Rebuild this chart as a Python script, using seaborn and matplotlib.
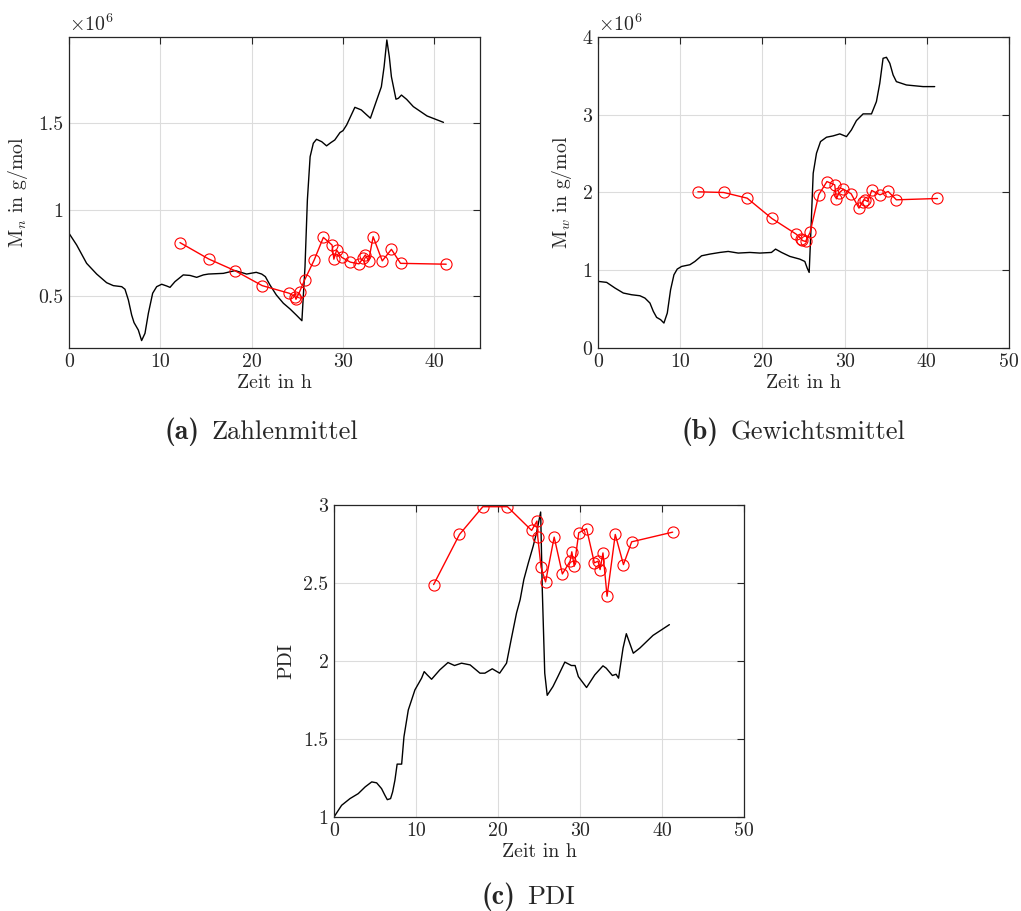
import numpy as np
import pandas as pd
import matplotlib
matplotlib.use("Agg")
import matplotlib.pyplot as plt
import seaborn as sns
from matplotlib.ticker import FuncFormatter

# ---------------- data ----------------
# Simulation (black line), Mn in 1e6 g/mol
t_mn = [0, 0.84, 1.93, 3.03, 4.12, 4.85, 5.77, 6.13, 6.5, 6.86, 7.12, 7.59, 7.95, 8.32, 8.69,
        9.16, 9.6, 10.15, 10.69, 11.06, 11.6, 12.51, 13.25, 13.98, 14.71, 15.26, 16.9, 18.18,
        19.45, 20.5, 21.1, 21.5, 22.0, 22.7, 23.47, 24.2, 24.9, 25.5, 25.84, 26.1, 26.4,
        26.75, 27.1, 27.67, 28.2, 28.65, 29.1, 29.67, 30.0, 30.4, 31.3, 32.0, 32.6, 33.0,
        33.5, 34.2, 34.5, 34.8, 35.07, 35.3, 35.8, 36.06, 36.4, 36.97, 37.7, 39.2, 41.0]
mn_sim = [0.864, 0.796, 0.69, 0.628, 0.578, 0.561, 0.555, 0.54, 0.478, 0.391, 0.347, 0.304,
          0.243, 0.285, 0.401, 0.517, 0.555, 0.569, 0.559, 0.551, 0.584, 0.623, 0.62, 0.609,
          0.623, 0.628, 0.632, 0.648, 0.628, 0.638, 0.628, 0.613, 0.565, 0.507, 0.459, 0.426,
          0.39, 0.358, 0.671, 1.057, 1.307, 1.385, 1.408, 1.394, 1.37, 1.388, 1.404, 1.447,
          1.458, 1.491, 1.593, 1.578, 1.549, 1.53, 1.606, 1.712, 1.828, 1.983, 1.886, 1.77,
          1.64, 1.645, 1.664, 1.639, 1.597, 1.543, 1.506]

# Simulation Mw in 1e6 g/mol
t_mw = [0, 1.05, 2.07, 3.08, 4.09, 5.1, 5.71, 6.32, 6.73, 7.13, 7.62, 8.02, 8.43, 8.83, 9.24,
        9.64, 10.17, 11.18, 11.79, 12.6, 13.61, 14.83, 15.84, 17.06, 18.48, 19.69, 21.1, 21.6,
        22.33, 23.34, 24.55, 25.16, 25.45, 25.69, 25.89, 26.18, 26.58, 27.07, 27.8, 28.6,
        29.42, 30.23, 30.83, 31.44, 32.25, 33.27, 33.87, 34.28, 34.68, 35.09, 35.5, 35.9,
        36.3, 37.52, 39.55, 40.96]
mw_sim = [0.857, 0.844, 0.771, 0.707, 0.685, 0.672, 0.642, 0.578, 0.471, 0.394, 0.364, 0.321,
          0.45, 0.749, 0.942, 1.015, 1.049, 1.071, 1.113, 1.186, 1.208, 1.229, 1.242, 1.221,
          1.229, 1.221, 1.229, 1.272, 1.229, 1.178, 1.143, 1.113, 1.028, 0.972, 1.478, 2.248,
          2.505, 2.655, 2.711, 2.728, 2.754, 2.719, 2.805, 2.925, 3.011, 3.011, 3.169, 3.405,
          3.726, 3.739, 3.662, 3.512, 3.426, 3.383, 3.362, 3.362]

# Simulation PDI
t_pdi = [0, 0.53, 0.93, 1.95, 2.96, 3.8, 4.6, 5.2, 5.8, 6.21, 6.5, 6.9, 7.15, 7.43, 7.7, 8.25,
         8.53, 9.06, 9.87, 10.68, 11.0, 11.37, 11.9, 12.9, 13.9, 14.7, 15.55, 16.6, 17.8, 18.4,
         19.3, 20.2, 21.04, 21.6, 22.26, 22.7, 23.15, 23.7, 24.29, 24.7, 25.2, 25.4, 25.7,
         26.0, 26.7, 27.3, 28.15, 28.95, 29.4, 29.8, 30.8, 31.8, 32.8, 33.2, 33.95, 34.4,
         34.7, 35.25, 35.65, 36.5, 37.3, 38.9, 40.9]
pdi_sim = [1.0, 1.043, 1.075, 1.118, 1.15, 1.193, 1.225, 1.219, 1.182, 1.139, 1.111, 1.118,
           1.161, 1.236, 1.339, 1.339, 1.514, 1.686, 1.815, 1.89, 1.932, 1.911, 1.883, 1.943,
           1.99, 1.971, 1.986, 1.975, 1.922, 1.922, 1.95, 1.922, 1.986, 2.136, 2.308, 2.393,
           2.522, 2.629, 2.736, 2.822, 2.955, 2.458, 1.922, 1.78, 1.836, 1.9, 1.993, 1.971,
           1.971, 1.9, 1.83, 1.911, 1.969, 1.954, 1.907, 1.915, 1.89, 2.083, 2.175, 2.05,
           2.083, 2.164, 2.233]

# Measurements (red circles)
t_meas = [12.15, 15.3, 18.15, 21.15, 24.1, 24.75, 24.85, 25.25, 25.8, 26.85, 27.85, 28.8,
          29.0, 29.3, 29.85, 30.8, 31.75, 32.2, 32.45, 32.8, 33.3, 34.3, 35.3, 36.3, 41.3]
mn_meas = [0.81, 0.715, 0.648, 0.561, 0.517, 0.497, 0.482, 0.526, 0.594, 0.71, 0.84, 0.796,
           0.714, 0.767, 0.725, 0.697, 0.687, 0.72, 0.739, 0.704, 0.844, 0.704, 0.771, 0.69,
           0.685]
mw_meas = [2.009, 2.0, 1.927, 1.666, 1.465, 1.40, 1.383, 1.37, 1.486, 1.97, 2.141, 2.098,
           1.919, 1.991, 2.043, 1.983, 1.799, 1.884, 1.906, 1.884, 2.026, 1.97, 2.013, 1.906,
           1.923]
pdi_meas = [2.49, 2.811, 2.989, 2.989, 2.837, 2.897, 2.794, 2.601, 2.507, 2.794, 2.558, 2.64,
            2.7, 2.608, 2.822, 2.848, 2.629, 2.64, 2.586, 2.693, 2.415, 2.811, 2.618, 2.764,
            2.826]

# ---------------- style ----------------
sns.set_style("white")
plt.rcParams.update({
    "font.family": ["cmr10", "DejaVu Serif"],
    "mathtext.fontset": "cm",
    "axes.formatter.use_mathtext": True,
    "axes.unicode_minus": False,
    "font.size": 14.3,
    "axes.edgecolor": "#262626",
    "axes.linewidth": 0.9,
})

W, H = 1021, 911
fig = plt.figure(figsize=(W / 100, H / 100), dpi=100)


def make_axes(l, r, t, b):
    return fig.add_axes([l / W, (H - b) / H, (r - l) / W, (b - t) / H])


fmt = FuncFormatter(lambda v, p: "%g" % v)


def style(ax, xlim, ylim, yticks, xticks, ylabel):
    ax.set_xlim(*xlim)
    ax.set_ylim(*ylim)
    ax.set_xticks(xticks)
    ax.set_yticks(yticks)
    ax.xaxis.set_major_formatter(fmt)
    ax.yaxis.set_major_formatter(fmt)
    ax.grid(True, color="#dcdcdc", lw=0.8)
    ax.set_axisbelow(True)
    ax.tick_params(direction="in", top=True, right=True, length=5, width=0.8,
                   labelsize=14.3, colors="#262626", pad=4)
    for s in ax.spines.values():
        s.set_visible(True)
        s.set_color("#262626")
    ax.set_xlabel("Zeit in h", fontsize=14.3, color="#262626", labelpad=2)
    ax.set_ylabel(ylabel, fontsize=14.3, color="#262626", labelpad=6)


def draw(ax, ts, ys, tm, ym):
    sns.lineplot(x=ts, y=ys, ax=ax, color="black", lw=1.0, sort=False, estimator=None)
    sns.lineplot(x=tm, y=ym, ax=ax, color="red", lw=1.0, sort=False, estimator=None,
                 marker="o", markersize=8, markerfacecolor="none",
                 markeredgecolor="red", markeredgewidth=0.8)


ax_a = make_axes(69, 480, 37, 348)
draw(ax_a, t_mn, mn_sim, t_meas, mn_meas)
style(ax_a, (0, 45), (0.2, 2.0), [0.5, 1.0, 1.5], [0, 10, 20, 30, 40], r"M$_n$ in g/mol")
ax_a.text(0, 1.008, r"$\times10^{6}$", transform=ax_a.transAxes, fontsize=14.3,
          color="#262626", ha="left", va="bottom")

ax_b = make_axes(598, 1009, 37, 348)
draw(ax_b, t_mw, mw_sim, t_meas, mw_meas)
style(ax_b, (0, 50), (0, 4), [0, 1, 2, 3, 4], [0, 10, 20, 30, 40, 50], r"M$_w$ in g/mol")
ax_b.text(0, 1.008, r"$\times10^{6}$", transform=ax_b.transAxes, fontsize=14.3,
          color="#262626", ha="left", va="bottom")

ax_c = make_axes(334, 744, 505, 817)
draw(ax_c, t_pdi, pdi_sim, t_meas, pdi_meas)
style(ax_c, (0, 50), (1, 3), [1, 1.5, 2, 2.5, 3], [0, 10, 20, 30, 40, 50], "PDI")

# ---------------- captions ----------------
CAP_FS = 19
BOLD_FS = 20
GAP = 12
caps = [(261.5, 439, "(a)", "Zahlenmittel"),
        (793.5, 439, "(b)", "Gewichtsmittel"),
        (528.5, 904, "(c)", "PDI")]
objs = []
for xc, yb, lab, txt in caps:
    t1 = fig.text(0, 1 - yb / H, lab, fontsize=BOLD_FS, family="cmb10",
                  ha="left", va="baseline")
    t2 = fig.text(0, 1 - yb / H, txt, fontsize=CAP_FS, family="cmr10",
                  ha="left", va="baseline")
    objs.append((xc, t1, t2))
fig.canvas.draw()
r = fig.canvas.get_renderer()
for xc, t1, t2 in objs:
    w1 = t1.get_window_extent(r).width
    w2 = t2.get_window_extent(r).width
    total = w1 + GAP + w2
    x0 = xc - total / 2
    t1.set_x(x0 / W)
    t2.set_x((x0 + w1 + GAP) / W)

fig.savefig("out.png", dpi=100)
